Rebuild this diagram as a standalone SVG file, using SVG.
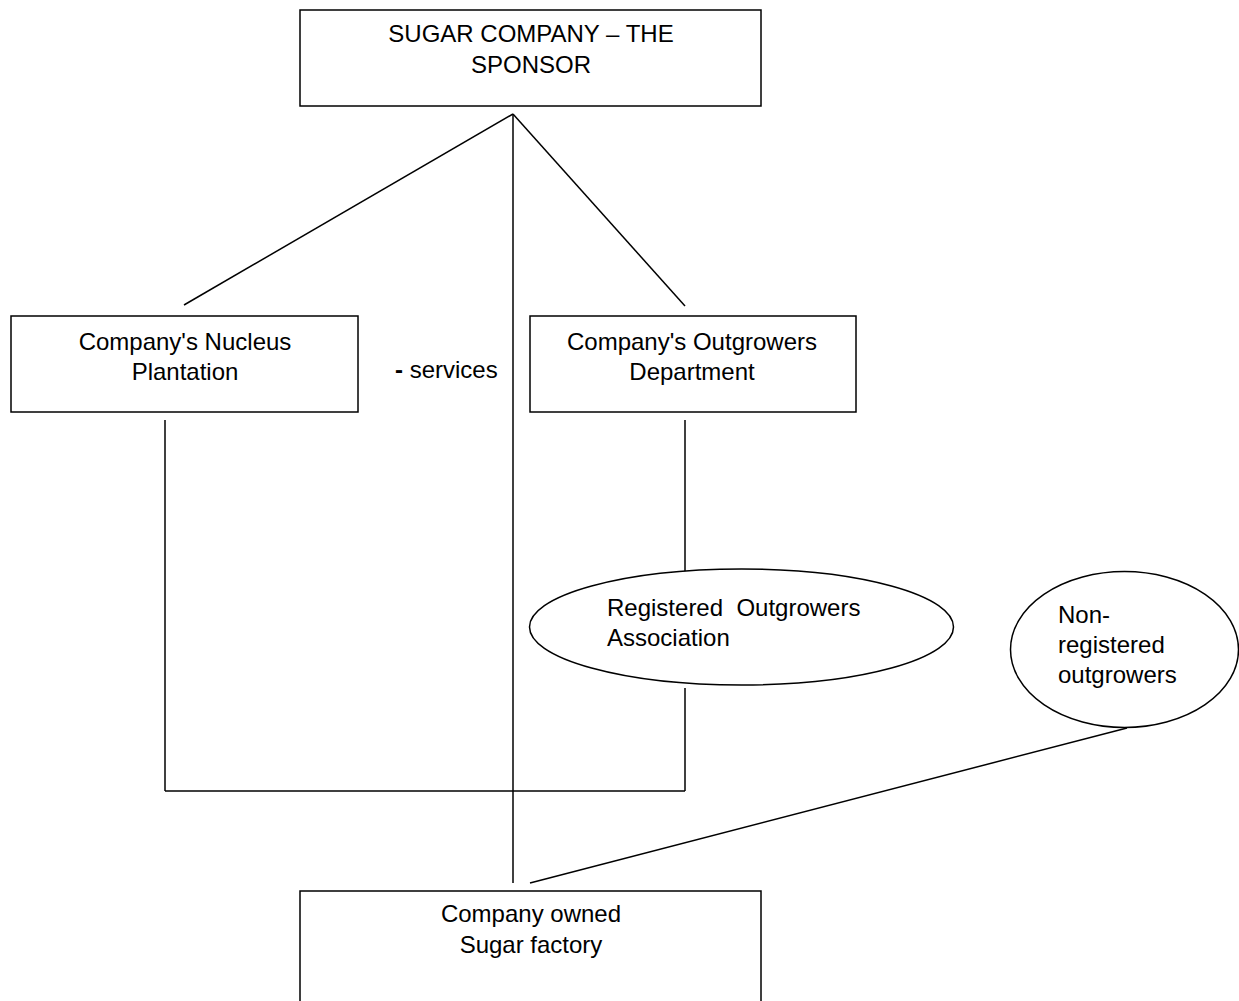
<svg xmlns="http://www.w3.org/2000/svg" width="1239" height="1001" viewBox="0 0 1239 1001">
<style>
.box{fill:#fff;stroke:#000;stroke-width:1.5}
.ln{stroke:#000;stroke-width:1.5;fill:none}
text{font-family:"Liberation Sans",Arial,sans-serif;font-size:24px;fill:#000}
.c{text-anchor:middle}
</style>
<rect width="1239" height="1001" fill="#fff"/>
<g id="connectors">
<line class="ln" x1="513" y1="114" x2="184" y2="305"/>
<line class="ln" x1="513" y1="114" x2="685" y2="306"/>
<line class="ln" x1="513" y1="114" x2="513" y2="883"/>
<line class="ln" x1="165" y1="420" x2="165" y2="791"/>
<line class="ln" x1="165" y1="791" x2="685" y2="791"/>
<line class="ln" x1="685" y1="420" x2="685" y2="576"/>
<line class="ln" x1="685" y1="688" x2="685" y2="791"/>
<line class="ln" x1="1127" y1="728" x2="530" y2="883"/>
</g>
<g id="sponsor">
<rect class="box" x="300" y="10" width="461" height="96"/>
<text class="c" x="531" y="42">SUGAR COMPANY – THE</text>
<text class="c" x="531" y="73">SPONSOR</text>
</g>
<g id="nucleus">
<rect class="box" x="11" y="316" width="347" height="96"/>
<text class="c" x="185" y="350">Company's Nucleus</text>
<text class="c" x="185" y="380">Plantation</text>
</g>
<g id="services-label">
<text x="395" y="378"><tspan font-weight="bold">-</tspan> services</text>
</g>
<g id="outgrowers-dept">
<rect class="box" x="530" y="316" width="326" height="96"/>
<text class="c" x="692" y="350">Company's Outgrowers</text>
<text class="c" x="692" y="380">Department</text>
</g>
<g id="registered">
<ellipse class="box" cx="741.5" cy="627" rx="212" ry="58"/>
<text x="607" y="616" xml:space="preserve">Registered  Outgrowers</text>
<text x="607" y="646">Association</text>
</g>
<g id="nonregistered">
<ellipse class="box" cx="1124.5" cy="649.5" rx="114" ry="78"/>
<text x="1058" y="623">Non-</text>
<text x="1058" y="653">registered</text>
<text x="1058" y="683">outgrowers</text>
</g>
<g id="factory">
<rect class="box" x="300" y="891" width="461" height="120"/>
<text class="c" x="531" y="922">Company owned</text>
<text class="c" x="531" y="953">Sugar factory</text>
</g>
</svg>
